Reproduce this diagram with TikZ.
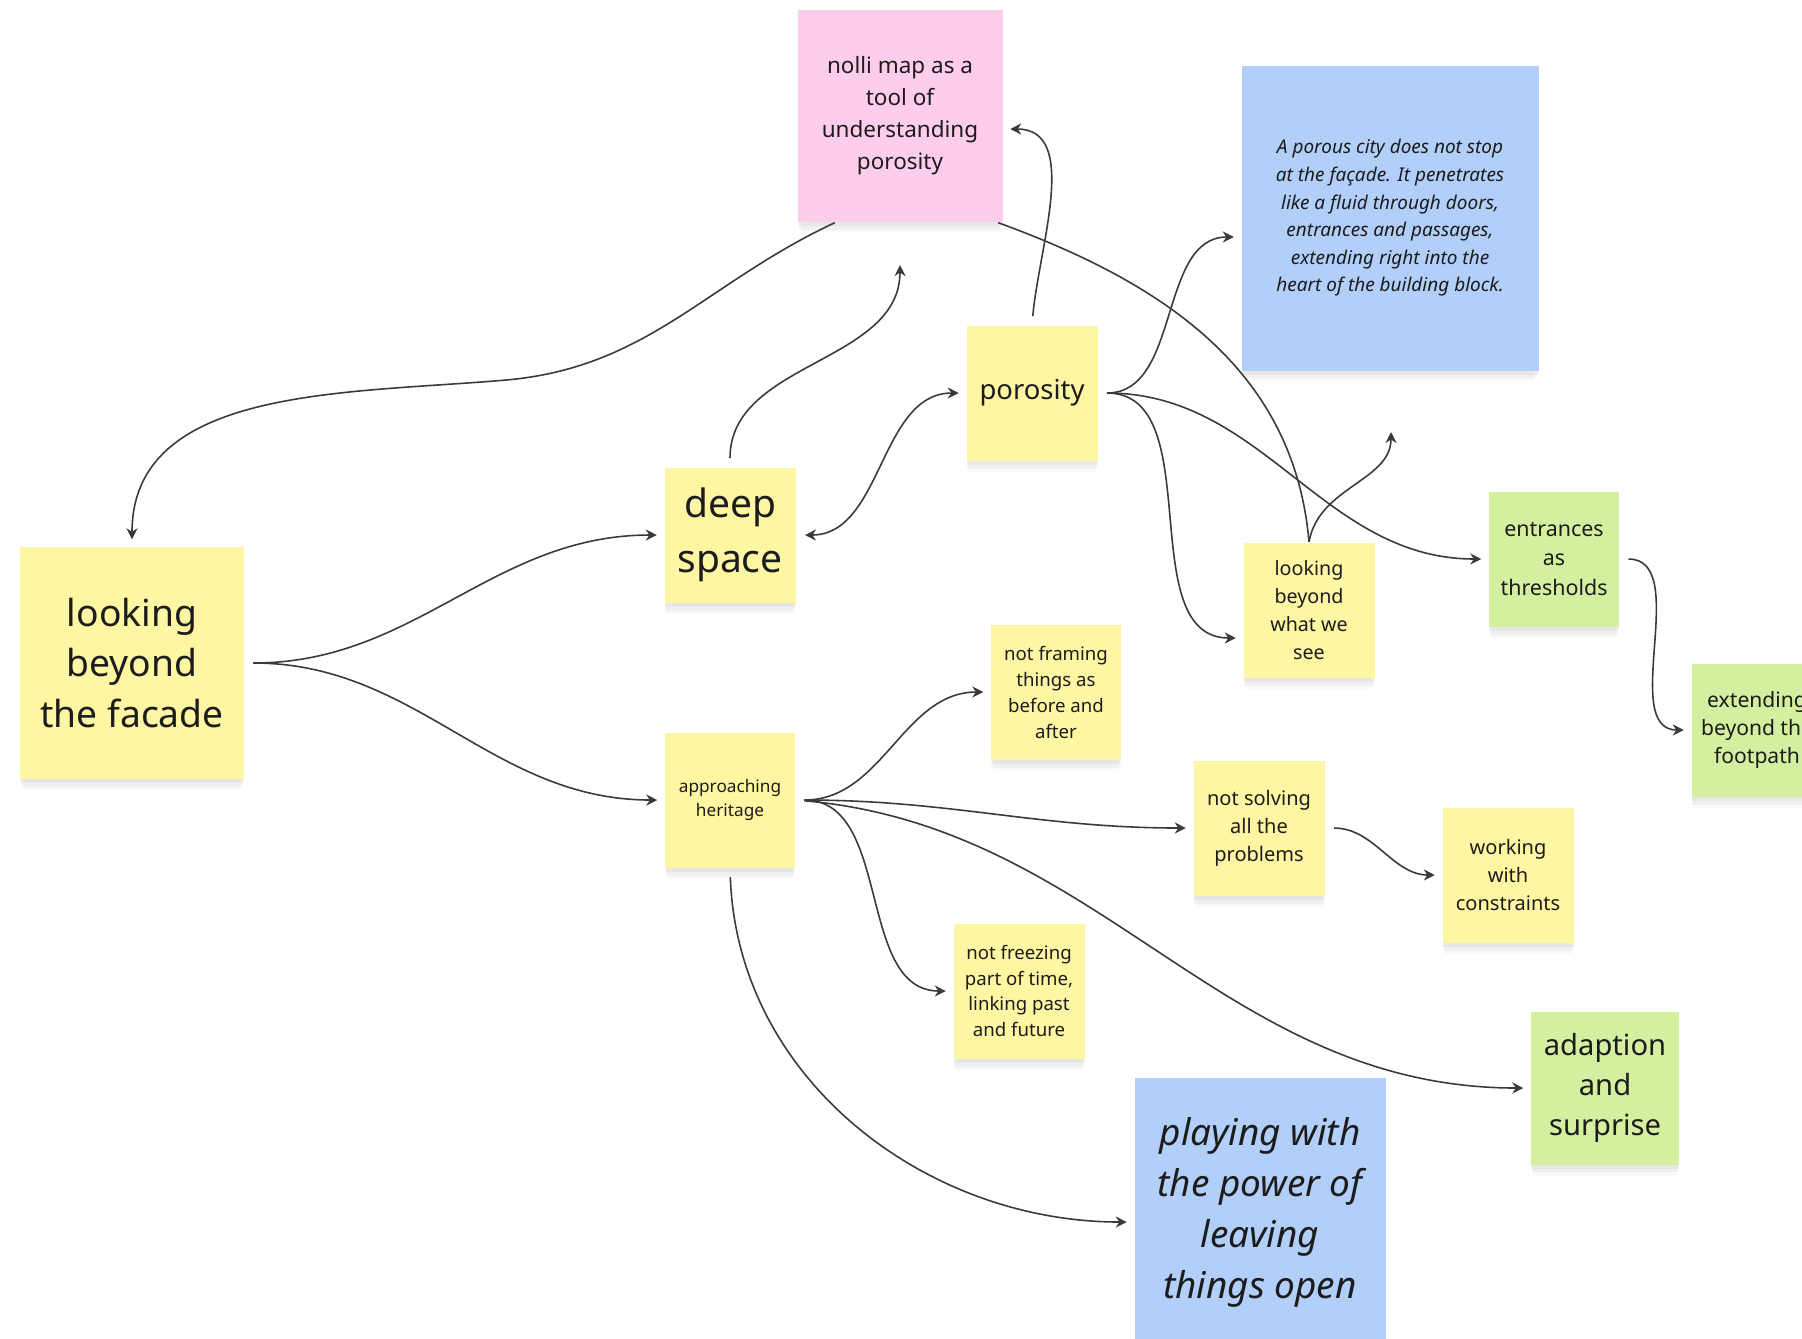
\documentclass[tikz,border=0pt]{standalone}
\usepackage{fontspec}
\setmainfont{Noto Sans}
\usetikzlibrary{arrows.meta,shadows}
\definecolor{ink}{HTML}{1C1C1C}
\definecolor{wire}{HTML}{3A3A3A}
\definecolor{stickyyellow}{HTML}{FFF6A3}
\definecolor{stickypink}{HTML}{FFCDEC}
\definecolor{stickyblue}{HTML}{B2CFFA}
\definecolor{stickygreen}{HTML}{D4EFA0}
\newcommand{\notefont}[2]{\fontsize{#1}{#2}\selectfont}

\begin{document}
\begin{tikzpicture}[>={Stealth[length=1.1mm,width=1.1mm]},
note/.style={rectangle,inner sep=0pt,minimum width=1.31cm,minimum height=1.35cm,align=center,text=ink,
  drop shadow={shadow xshift=0pt,shadow yshift=-4pt,shadow scale=0.97,fill=black,opacity=0.025},
  drop shadow={shadow xshift=0pt,shadow yshift=-2.5pt,shadow scale=0.99,fill=black,opacity=0.035},
  drop shadow={shadow xshift=0pt,shadow yshift=-1.2pt,fill=black,opacity=0.04}},
yelnote/.style={note,fill=stickyyellow},
pinknote/.style={note,fill=stickypink},
bluenote/.style={note,fill=stickyblue},
greennote/.style={note,fill=stickygreen},
link/.style={->,draw=wire,line width=0.45pt,shorten >=2pt,shorten <=2.5pt},
plain/.style={draw=wire,line width=0.45pt}]
\path[fill=white] (0,0) rectangle (18.02,-13.38);
\useasboundingbox (0,0) rectangle (18.02,-13.38);
% notes
\node[yelnote,font=\notefont{10.6}{14.5},minimum width=2.24cm,minimum height=2.32cm] (facade) at (1.32,-6.63) {looking\\beyond\\the facade};
\node[yelnote,font=\notefont{11.1}{15.6}] (deep) at (7.30,-5.35) {deep\\space};
\node[yelnote,font=\notefont{7.8}{10}] (porosity) at (10.32,-3.93) {porosity};
\node[pinknote,font=\notefont{6.4}{9.1},minimum width=2.05cm,minimum height=2.12cm] (nolli) at (9.00,-1.16) {nolli map as a\\tool of\\understanding\\porosity};
\node[bluenote,font=\itshape\notefont{5.4}{7.85},minimum width=2.97cm,minimum height=3.05cm] (porous) at (13.90,-2.18) {A porous city does not stop\\at the façade. It penetrates\\like a fluid through doors,\\entrances and passages,\\extending right into the\\heart of the building block.};
\node[yelnote,font=\notefont{5.6}{8}] (seen) at (13.09,-6.10) {looking\\beyond\\what we\\see};
\node[greennote,font=\notefont{6.1}{8.3},minimum width=1.30cm] (entr) at (15.54,-5.59) {entrances\\as\\thresholds};
\node[greennote,font=\notefont{6}{8},minimum height=1.33cm] (ext) at (17.57,-7.30) {extending\\beyond the\\footpath};
\node[yelnote,font=\notefont{5.3}{7.4},minimum width=1.30cm] (framing) at (10.56,-6.92) {not framing\\things as\\before and\\after};
\node[yelnote,font=\notefont{4.9}{6.8},minimum width=1.30cm] (heritage) at (7.30,-8.00) {approaching\\heritage};
\node[yelnote,font=\notefont{5.7}{8}] (solving) at (12.59,-8.28) {not solving\\all the\\problems};
\node[yelnote,font=\notefont{5.7}{8}] (working) at (15.08,-8.75) {working\\with\\constraints};
\node[yelnote,font=\notefont{5.3}{7.3}] (freezing) at (10.19,-9.91) {not freezing\\part of time,\\linking past\\and future};
\node[greennote,font=\notefont{8.3}{11.3},minimum width=1.48cm,minimum height=1.53cm] (adapt) at (16.05,-10.88) {adaption\\and\\surprise};
\node[bluenote,font=\itshape\notefont{10.5}{14.5},minimum width=2.51cm,minimum height=2.68cm] (playing) at (12.60,-12.12) {playing with\\the power of\\leaving\\things open};
% free ends and bends
\coordinate (nolliin) at (9.00,-2.58);
\coordinate (seenout) at (13.91,-4.25);
\coordinate (bend) at (5.06,-3.80);
% connectors
\draw[link] (facade.east) to[out=0,in=180] (deep.west);
\draw[link] (facade.east) to[out=0,in=180] (heritage.west);
\draw[link,shorten <=0pt] ([xshift=3.8mm]nolli.south west) to[out=205,in=5] (bend) to[out=185,in=90] (facade.north);
\draw[link] (deep.north) to[out=90,in=-90] (nolliin);
\draw[link,<->] (deep.east) to[out=0,in=180] (porosity.west);
\draw[link] (porosity.north) to[out=85,in=0] ([yshift=-1.3mm]nolli.east);
\draw[link] (porosity.east) to[out=0,in=180] ([yshift=-1.9mm]porous.west);
\draw[link] (porosity.east) to[out=0,in=180] (entr.west);
\draw[link] (porosity.east) to[out=0,in=180] ([yshift=-2.8mm]seen.west);
\draw[plain] ([xshift=-0.5mm]nolli.south east) to[out=-20,in=95] (seen.north);
\draw[link,shorten <=0pt] (seen.north) to[out=80,in=-90] (seenout);
\draw[link] (entr.east) to[out=0,in=180] (ext.west);
\draw[link] (heritage.east) to[out=0,in=180] (framing.west);
\draw[link] (heritage.east) to[out=0,in=180] (solving.west);
\draw[link] (heritage.east) to[out=0,in=180] (freezing.west);
\draw[link] (heritage.east) to[out=-5,in=180] (adapt.west);
\draw[link] (heritage.south) to[out=-88,in=180] ([yshift=-1mm]playing.west);
\draw[link] (solving.east) to[out=0,in=180] (working.west);
\end{tikzpicture}
\end{document}
